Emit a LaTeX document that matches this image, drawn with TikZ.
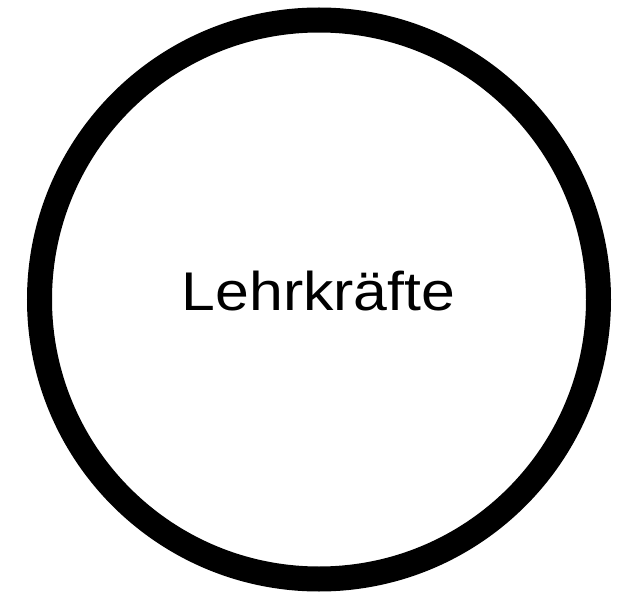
\documentclass[tikz,border=0pt]{standalone}
\usepackage{fontspec}
\setmainfont{Liberation Sans}
\begin{document}
\begin{tikzpicture}[x=1pt,y=1pt,
  ring/.style={draw=black, line width=25pt, circle, minimum size=559pt, inner sep=0pt},
  label/.style={font=\fontsize{54.5}{62}\selectfont, anchor=base, inner sep=0pt, xscale=1.115}]
\useasboundingbox (0,0) rectangle (638,-599);
\node[ring] (c) at (319,-299.5) {};
\node[label] (t) at (318.5,-310) {Lehrkräfte};
\end{tikzpicture}
\end{document}
